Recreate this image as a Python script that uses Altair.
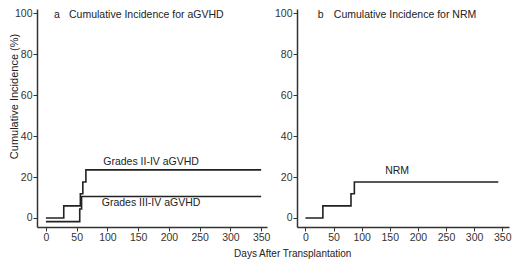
import altair as alt
import pandas as pd

# Step data (days, cumulative incidence %)
gvhd24_days = [0, 29, 56, 60, 65, 350]
gvhd24_vals = [0, 5.9, 11.8, 17.6, 23.5, 23.5]
gvhd34_days = [0, 55, 58, 350]
gvhd34_vals = [-1.8, 4.4, 10.5, 10.5]
nrm_days = [0, 31, 81, 87, 343]
nrm_vals = [0, 5.9, 11.8, 17.6, 17.6]

x_ticks = [0, 50, 100, 150, 200, 250, 300, 350]
y_ticks = [0, 20, 40, 60, 80, 100]

left_labels = ["Grades II-IV aGVHD", "Grades III-IV aGVHD"]
left_label_x = [171, 171]
left_label_y = [27.5, 7.2]
right_labels = ["NRM"]
right_label_x = [163]
right_label_y = [23]

panel_letters = ["a", "b"]
panel_titles = ["Cumulative Incidence for aGVHD", "Cumulative Incidence for NRM"]

FONT = "Liberation Sans"
INK = "#222222"

df_left = pd.DataFrame({
    "day": gvhd24_days + gvhd34_days,
    "ci": gvhd24_vals + gvhd34_vals,
    "series": ["II-IV"] * len(gvhd24_days) + ["III-IV"] * len(gvhd34_days),
})
df_right = pd.DataFrame({"day": nrm_days, "ci": nrm_vals, "series": ["NRM"] * len(nrm_days)})

ydom = [-4.4, 102]


def panel(df, xdom, ytitle, labels, lx, ly, letter, ptitle, hx, width):
    xs = alt.Scale(domain=xdom, nice=False, zero=False)
    ys = alt.Scale(domain=ydom, nice=False, zero=False)
    xax = alt.Axis(values=x_ticks, title=None, grid=False, labelFlush=False, labelOverlap=False)
    if ytitle:
        yax = alt.Axis(values=y_ticks, title=ytitle, grid=False, labelOverlap=False,
                       titleX=-17.5, titleY=87)
    else:
        yax = alt.Axis(values=y_ticks, title=None, grid=False, labelOverlap=False)
    lines = alt.Chart(df).mark_line(
        interpolate="step-after", color=INK, strokeWidth=1.6, clip=False
    ).encode(
        x=alt.X("day:Q", scale=xs, axis=xax),
        y=alt.Y("ci:Q", scale=ys, axis=yax),
        detail="series:N",
    )
    lab = alt.Chart(pd.DataFrame({"t": labels, "x": lx, "y": ly})).mark_text(
        align="center", baseline="middle", font=FONT, fontSize=10.5, color=INK
    ).encode(x=alt.X("x:Q", scale=xs, axis=xax), y=alt.Y("y:Q", scale=ys, axis=yax), text="t:N")
    head = alt.Chart(pd.DataFrame({"t": [letter, ptitle], "x": hx, "y": [102, 102]})).mark_text(
        align="left", baseline="top", font=FONT, fontSize=10.5, color=INK, dy=1
    ).encode(x=alt.X("x:Q", scale=xs, axis=xax), y=alt.Y("y:Q", scale=ys, axis=yax), text="t:N")
    return alt.layer(lines, lab, head).properties(width=width, height=218)


left = panel(df_left, [-14.5, 359.5], "Cumulative Incidence (%)", left_labels,
             left_label_x, left_label_y, panel_letters[0], panel_titles[0], [13, 37.5], 230)
right = panel(df_right, [-15, 362], None, right_labels,
              right_label_x, right_label_y, panel_letters[1], panel_titles[1], [22, 50.5], 212)

chart = alt.hconcat(left, right, spacing=4).properties(
    title=alt.TitleParams(
        text="Days After Transplantation", orient="bottom", anchor="middle",
        dx=33, offset=6, fontSize=10, fontWeight="normal", font=FONT, color=INK,
    ),
    padding={"left": 0, "top": 0, "right": 0, "bottom": 0},
).configure_view(stroke=None).configure_axis(
    domainColor="#333333", domainWidth=1.5, tickColor="#333333", tickSize=4,
    labelColor="#333333", labelFont=FONT, labelFontSize=10.5, labelPadding=1,
    titleFont=FONT, titleFontSize=11, titleFontWeight="normal", titleColor=INK,
    titlePadding=4,
)

chart.save("out.html", embed_options={"renderer": "svg", "actions": False})
